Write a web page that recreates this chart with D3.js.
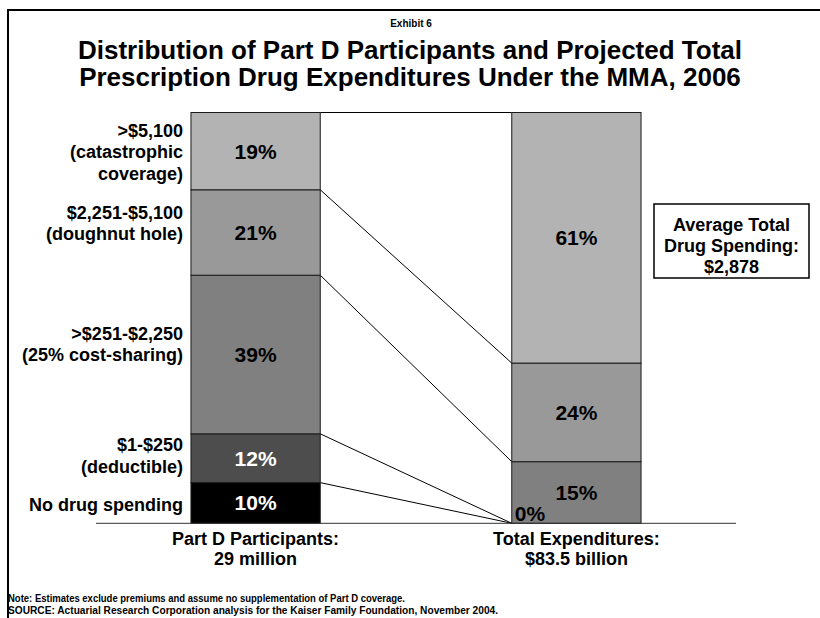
<!DOCTYPE html>
<html>
<head>
<meta charset="utf-8">
<script src="https://cdn.jsdelivr.net/npm/d3@7"></script>
<style>
  html, body { margin: 0; padding: 0; background: #fff; }
  svg text { font-family: "Liberation Sans", Arial, sans-serif; font-weight: bold; }
</style>
</head>
<body>
<svg id="chart" width="820" height="618"></svg>
<script>
// Spending tiers, bottom to top
const tiers = ["none", "deductible", "costSharing", "doughnut", "catastrophic"];
const tierLabels = [
  ["No drug spending"],
  ["$1-$250", "(deductible)"],
  [">$251-$2,250", "(25% cost-sharing)"],
  ["$2,251-$5,100", "(doughnut hole)"],
  [">$5,100", "(catastrophic", "coverage)"]
];
// Share of participants in each tier (%)
const participantShares = [10, 12, 39, 21, 19];
// Share of total expenditures falling in each tier (%)
const expenditureShares = [0, 0, 15, 24, 61];

const bars = ["participants", "expenditures"];
const barTitles = ["Part D Participants:", "Total Expenditures:"];
const barTotals = ["29 million", "$83.5 billion"];

const exhibit = "Exhibit 6";
const titleLines = [
  "Distribution of Part D Participants and Projected Total",
  "Prescription Drug Expenditures Under the MMA, 2006"
];
const calloutLines = ["Average Total", "Drug Spending:", "$2,878"];
const noteLines = [
  "Note: Estimates exclude premiums and assume no supplementation of Part D coverage.",
  "SOURCE: Actuarial Research Corporation analysis for the Kaiser Family Foundation, November 2004."
];

const svg = d3.select("#chart");

// frame
svg.append("rect")
  .attr("x", 8).attr("y", 10).attr("width", 840).attr("height", 640)
  .attr("fill", "none").attr("stroke", "#000").attr("stroke-width", 2);

// titles
svg.append("text").attr("x", 411).attr("y", 27).attr("text-anchor", "middle")
  .attr("font-size", 10).text(exhibit);
svg.selectAll("text.title").data(titleLines).join("text")
  .attr("class", "title")
  .attr("x", 410).attr("y", (d, i) => 59 + i * 27)
  .attr("text-anchor", "middle").attr("font-size", 26)
  .text(d => d);

// scales
const x = d3.scaleBand().domain(bars).range([96, 736])
  .paddingInner(0.597).paddingOuter(0.296);
const y = d3.scaleLinear().domain([0, 1]).range([523.3, 112.5]);
const fill = d3.scaleOrdinal().domain(tiers)
  .range(["#000000", "#4d4d4d", "#808080", "#999999", "#b3b3b3"]);
const ink = d3.scaleOrdinal().domain(tiers)
  .range(["#ffffff", "#ffffff", "#000000", "#000000", "#000000"]);

const rows = bars.map((b, bi) => {
  const vals = bi === 0 ? participantShares : expenditureShares;
  const r = { bar: b };
  tiers.forEach((t, i) => r[t] = vals[i]);
  return r;
});
const series = d3.stack().keys(tiers).offset(d3.stackOffsetExpand)(rows);

// connector lines between matching tier boundaries
const leftEdge = x("participants") + x.bandwidth();
const rightEdge = x("expenditures");
svg.append("g").selectAll("line").data(series).join("line")
  .attr("x1", leftEdge).attr("y1", s => y(s[0][1]))
  .attr("x2", rightEdge).attr("y2", s => y(s[1][1]))
  .attr("stroke", "#000").attr("stroke-width", 1);

// stacked segments
const segs = svg.append("g").selectAll("g").data(series).join("g")
  .attr("fill", s => fill(s.key));
segs.selectAll("rect").data(s => s).join("rect")
  .attr("x", d => x(d.data.bar))
  .attr("y", d => y(d[1]))
  .attr("width", x.bandwidth())
  .attr("height", d => y(d[0]) - y(d[1]))
  .attr("stroke", "#1a1a1a").attr("stroke-width", 1);

// baseline
svg.append("line").attr("x1", 96).attr("x2", 736)
  .attr("y1", y(0)).attr("y2", y(0))
  .attr("stroke", "#333").attr("stroke-width", 1);

// value labels
const valueLabels = [];
series.forEach((s, ti) => {
  s.forEach((d, bi) => {
    const v = rows[bi][s.key];
    if (v > 0) {
      valueLabels.push({ text: v + "%", x: x(d.data.bar) + x.bandwidth() / 2,
        y: (y(d[0]) + y(d[1])) / 2 + 7.5, anchor: "middle", color: ink(s.key) });
    } else if (ti === 0) {
      valueLabels.push({ text: v + "%", x: x(d.data.bar) + 3,
        y: y(d[1]) - 2, anchor: "start", color: "#000" });
    }
  });
});
svg.append("g").selectAll("text").data(valueLabels).join("text")
  .attr("x", d => d.x).attr("y", d => d.y)
  .attr("text-anchor", d => d.anchor).attr("fill", d => d.color)
  .attr("font-size", 21).text(d => d.text);

// tier labels left of the participants bar, set slightly off-centre
const lineGap = 21.5;
const labelShift = { none: 2, deductible: -2, costSharing: -10, doughnut: -9, catastrophic: 1 };
const tierG = svg.append("g");
series.forEach((s, ti) => {
  const d = s[0];
  const cy = (y(d[0]) + y(d[1])) / 2 + labelShift[s.key];
  const lines = tierLabels[ti];
  lines.forEach((ln, li) => {
    tierG.append("text")
      .attr("x", x("participants") - 8)
      .attr("y", cy + (li - (lines.length - 1) / 2) * lineGap + 6)
      .attr("text-anchor", "end").attr("font-size", 18)
      .text(ln);
  });
});

// category labels under the bars
bars.forEach((b, i) => {
  const cx = x(b) + x.bandwidth() / 2;
  svg.append("text").attr("x", cx).attr("y", 545).attr("text-anchor", "middle")
    .attr("font-size", 18).text(barTitles[i]);
  svg.append("text").attr("x", cx).attr("y", 565).attr("text-anchor", "middle")
    .attr("font-size", 18).text(barTotals[i]);
});

// callout box
svg.append("rect").attr("x", 654).attr("y", 204).attr("width", 155).attr("height", 74)
  .attr("fill", "#fff").attr("stroke", "#000").attr("stroke-width", 1.5);
svg.selectAll("text.callout").data(calloutLines).join("text")
  .attr("class", "callout")
  .attr("x", 731.5).attr("y", (d, i) => 230.5 + i * 21)
  .attr("text-anchor", "middle").attr("font-size", 18).text(d => d);

// notes, set in a condensed run
const noteWidths = [397, 490];
svg.selectAll("text.note").data(noteLines).join("text")
  .attr("class", "note")
  .attr("x", 8).attr("y", (d, i) => 602 + i * 12)
  .attr("font-size", 10)
  .attr("textLength", (d, i) => noteWidths[i])
  .attr("lengthAdjust", "spacingAndGlyphs")
  .text(d => d);
</script>
</body>
</html>
